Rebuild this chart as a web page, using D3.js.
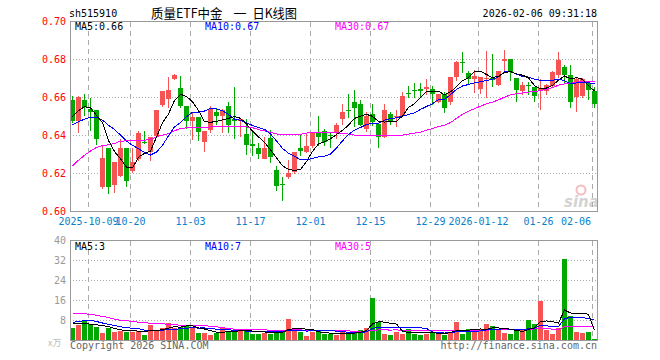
<!DOCTYPE html>
<html>
<head>
<meta charset="utf-8">
<script src="https://cdn.jsdelivr.net/npm/d3@7"></script>
<style>
body { margin: 0; background: #fff; }
svg { display: block; }
text { font-family: "DejaVu Sans Mono", monospace; font-size: 10px; }
</style>
</head>
<body>
<svg id="chart" width="660" height="360"></svg>
<script>
// daily candles, oldest first (88 sessions, 2025-09-26 .. 2026-02-06)
var opens = [0.6586, 0.6475, 0.6586, 0.6542, 0.6533, 0.6128, 0.6335, 0.6140, 0.6189, 0.6335,
    0.6214, 0.6274, 0.6367, 0.6314, 0.6395, 0.6560, 0.6593, 0.6698, 0.6650, 0.6554,
    0.6475, 0.6495, 0.6367, 0.6425, 0.6525, 0.6502, 0.6554, 0.6486, 0.6477, 0.6410,
    0.6353, 0.6332, 0.6279, 0.6389, 0.6221, 0.6147, 0.6179, 0.6204, 0.6332, 0.6314,
    0.6344, 0.6414, 0.6425, 0.6402, 0.6411, 0.6486, 0.6535, 0.6575, 0.6565, 0.6432,
    0.6512, 0.6463, 0.6393, 0.6512, 0.6495, 0.6502, 0.6626, 0.6638, 0.6644, 0.6645,
    0.6644, 0.6577, 0.6618, 0.6577, 0.6709, 0.6786, 0.6728, 0.6700, 0.6646, 0.6698,
    0.6705, 0.6666, 0.6796, 0.6805, 0.6705, 0.6635, 0.6665, 0.6656, 0.6635, 0.6635,
    0.6661, 0.6717, 0.6758, 0.6717, 0.6600, 0.6607, 0.6674, 0.6635];
var highs = [0.6607, 0.6610, 0.6618, 0.6595, 0.6535, 0.6344, 0.6335, 0.6261, 0.6379, 0.6335,
    0.6332, 0.6425, 0.6425, 0.6393, 0.6535, 0.6635, 0.6709, 0.6726, 0.6712, 0.6554,
    0.6516, 0.6495, 0.6425, 0.6554, 0.6537, 0.6542, 0.6575, 0.6653, 0.6488, 0.6486,
    0.6428, 0.6358, 0.6393, 0.6428, 0.6242, 0.6182, 0.6270, 0.6311, 0.6410, 0.6412,
    0.6414, 0.6502, 0.6432, 0.6414, 0.6467, 0.6565, 0.6618, 0.6642, 0.6586, 0.6525,
    0.6565, 0.6463, 0.6565, 0.6525, 0.6533, 0.6630, 0.6663, 0.6674, 0.6674, 0.6698,
    0.6663, 0.6620, 0.6630, 0.6710, 0.6790, 0.6840, 0.6740, 0.6744, 0.6708, 0.6846,
    0.6828, 0.6740, 0.6849, 0.6805, 0.6705, 0.6682, 0.6682, 0.6656, 0.6695, 0.6670,
    0.6740, 0.6840, 0.6770, 0.6770, 0.6709, 0.6705, 0.6682, 0.6656];
var lows = [0.6470, 0.6420, 0.6507, 0.6428, 0.6353, 0.6123, 0.6098, 0.6104, 0.6185, 0.6135,
    0.6210, 0.6270, 0.6360, 0.6270, 0.6395, 0.6555, 0.6551, 0.6695, 0.6551, 0.6442,
    0.6384, 0.6375, 0.6318, 0.6420, 0.6463, 0.6420, 0.6420, 0.6388, 0.6396, 0.6305,
    0.6296, 0.6284, 0.6279, 0.6261, 0.6112, 0.6060, 0.6177, 0.6200, 0.6296, 0.6314,
    0.6340, 0.6349, 0.6349, 0.6340, 0.6389, 0.6460, 0.6498, 0.6451, 0.6454, 0.6425,
    0.6454, 0.6342, 0.6390, 0.6463, 0.6449, 0.6500, 0.6600, 0.6600, 0.6600, 0.6621,
    0.6568, 0.6575, 0.6525, 0.6568, 0.6691, 0.6735, 0.6677, 0.6630, 0.6625, 0.6600,
    0.6660, 0.6665, 0.6744, 0.6693, 0.6582, 0.6621, 0.6621, 0.6582, 0.6540, 0.6620,
    0.6658, 0.6709, 0.6674, 0.6550, 0.6530, 0.6600, 0.6590, 0.6550];
var closes = [0.6475, 0.6600, 0.6550, 0.6526, 0.6381, 0.6282, 0.6128, 0.6261, 0.6335, 0.6161,
    0.6261, 0.6411, 0.6362, 0.6393, 0.6533, 0.6635, 0.6642, 0.6719, 0.6556, 0.6475,
    0.6495, 0.6414, 0.6425, 0.6537, 0.6502, 0.6533, 0.6454, 0.6477, 0.6486, 0.6354,
    0.6344, 0.6302, 0.6335, 0.6288, 0.6139, 0.6142, 0.6200, 0.6311, 0.6314, 0.6344,
    0.6414, 0.6393, 0.6367, 0.6396, 0.6454, 0.6525, 0.6530, 0.6546, 0.6454, 0.6502,
    0.6472, 0.6393, 0.6533, 0.6475, 0.6502, 0.6607, 0.6620, 0.6633, 0.6635, 0.6656,
    0.6620, 0.6618, 0.6546, 0.6709, 0.6788, 0.6781, 0.6698, 0.6715, 0.6707, 0.6705,
    0.6696, 0.6738, 0.6805, 0.6738, 0.6644, 0.6665, 0.6661, 0.6607, 0.6651, 0.6665,
    0.6736, 0.6796, 0.6717, 0.6577, 0.6695, 0.6695, 0.6635, 0.6565];
var volumes = [5.1, 6.4, 7.9, 6.5, 5.6, 3.1, 5.2, 3.5, 4.0, 3.6,
    3.6, 4.0, 2.4, 6.4, 3.9, 4.9, 7.1, 5.2, 5.6, 6.3,
    4.9, 3.1, 3.1, 2.4, 3.1, 4.9, 3.9, 3.9, 3.9, 4.3,
    2.8, 2.8, 3.2, 2.8, 3.6, 4.1, 8.7, 4.3, 3.6, 1.9,
    3.6, 3.9, 2.7, 2.7, 2.0, 3.6, 3.3, 3.3, 4.4, 5.2,
    17.2, 7.3, 2.8, 2.0, 3.6, 2.8, 4.7, 2.8, 2.0, 2.8,
    3.3, 3.6, 2.3, 3.6, 7.3, 2.7, 4.7, 3.6, 4.7, 6.5,
    5.9, 4.3, 3.1, 2.7, 3.9, 4.1, 8.1, 6.5, 16.0, 4.3,
    2.8, 5.2, 32.7, 10.0, 3.3, 3.1, 3.3, 0.7];

// moving averages at the left edge (their windows start before it)
var ma5Head = [0.6500, 0.6530, 0.6552, 0.6545];
var ma10Head = [0.6456, 0.6472, 0.6486, 0.6497, 0.6497, 0.6481, 0.6454, 0.6432, 0.6402];
var ma30Head = [0.6239, 0.6270, 0.6296, 0.6318, 0.6337, 0.6347, 0.6351, 0.6358, 0.6370, 0.6372,
    0.6372, 0.6374, 0.6375, 0.6379, 0.6393, 0.6402, 0.6410, 0.6425, 0.6437, 0.6440,
    0.6442, 0.6442, 0.6443, 0.6445, 0.6445, 0.6446, 0.6446, 0.6446, 0.6446];
var volMa5Head = [6.9, 6.9, 6.9, 6.5];
var volMa10Head = [7.3, 7.5, 8.0, 8.0, 7.6, 7.0, 6.5, 6.0, 5.5];
var volMa30Head = [10.7, 10.7, 10.7, 10.4, 10.1, 9.6, 9.2, 8.5, 8.1, 7.9,
    7.6, 7.3, 7.1, 6.9, 6.8, 6.7, 6.4, 6.3, 6.1, 6.0,
    6.0, 5.9, 5.9, 5.7, 5.5, 5.1, 4.8, 4.5, 4.4];

var tickIndex = [3, 10, 20, 30, 40, 50, 60, 68, 78, 87];
var tickLabels = ["2025-10-09", "10-20", "11-03", "11-17", "12-01", "12-15", "12-29", "2026-01-12", "01-26", "02-06"];
var priceTicks = [0.60, 0.62, 0.64, 0.66, 0.68, 0.70];
var volTicks = [8, 16, 24, 32, 40];
var titleParts = ["质量ETF中金", "一", "日K线图"];
var priceMaText = ["MA5:0.66", "MA10:0.67", "MA30:0.67"];
var volMaText = ["MA5:3", "MA10:7", "MA30:5"];
var maColors = ["#000000", "#0000ff", "#ff00ff"];

var RED = "#f65454", GREEN = "#00a800", GRID = "#aaaaaa";

function movingAvg(values, n, head) {
    return values.map(function (v, i) {
        if (i < n - 1) return head[i];
        return d3.mean(values.slice(i - n + 1, i + 1));
    });
}

var svg = d3.select('#chart'),
    n = closes.length,
    left = 70, right = 70 + 6 * n;

var x = d3.scaleLinear().domain([0, n]).range([left, right]),
    yP = d3.scaleLinear().domain([0.60, 0.70]).range([211.5, 21.5]),
    yV = d3.scaleLinear().domain([0, 40]).range([340.5, 240.5]);

function cx(i) { return x(i) + 2.5; }

// header
svg.append('text').attr('x', 69).attr('y', 17).text('sh515910');
[[151, 71.5], [233.5, 13], [252.5, 44.5]].forEach(function (p, k) {
    svg.append('text').attr('x', p[0]).attr('y', 18)
        .style('font-family', '"Noto Sans CJK SC", sans-serif').style('font-size', '13px')
        .attr('textLength', p[1]).attr('lengthAdjust', 'spacingAndGlyphs')
        .text(titleParts[k]);
});
svg.append('text').attr('x', 597).attr('y', 17).attr('text-anchor', 'end').text('2026-02-06 09:31:18');

function panel(y0, y1, ticks, yScale, fmt, labelColor, showFirst) {
    var g = svg.append('g').attr('shape-rendering', 'crispEdges');
    g.selectAll('line.hg').data(ticks.slice(1, -1)).enter()
        .append('line')
        .attr('x1', left).attr('x2', right)
        .attr('y1', function (d) { return yScale(d); })
        .attr('y2', function (d) { return yScale(d); })
        .attr('stroke', GRID).attr('stroke-dasharray', '1,2');
    g.selectAll('line.vg').data(tickIndex).enter()
        .append('line')
        .attr('x1', function (d) { return x(d) + 0.5; })
        .attr('x2', function (d) { return x(d) + 0.5; })
        .attr('y1', y0).attr('y2', y1)
        .attr('stroke', GRID).attr('stroke-dasharray', '5,4');
    svg.append('g').selectAll('text').data(showFirst ? ticks : ticks.slice(1)).enter()
        .append('text')
        .attr('x', 66).attr('text-anchor', 'end')
        .attr('y', function (d) { return yScale(d); })
        .attr('dy', '0.35em')
        .attr('fill', labelColor)
        .text(fmt);
}

panel(21.5, 211.5, priceTicks, yP, d3.format('.2f'), '#ff0000', true);
panel(240.5, 340.5, [0].concat(volTicks), yV, function (d) { return d; }, '#999999', false);

// date axis
svg.append('g').selectAll('text').data(tickIndex).enter()
    .append('text')
    .attr('x', function (d, i) { return i === tickIndex.length - 1 ? 591 : x(d) + 0.5; })
    .attr('y', 225)
    .attr('text-anchor', function (d, i) { return i === tickIndex.length - 1 ? 'end' : 'middle'; })
    .attr('fill', '#0a80cc')
    .text(function (d, i) { return tickLabels[i]; });

// watermark
var wm = svg.append('g').attr('opacity', 0.55);
wm.append('circle').attr('cx', 581).attr('cy', 190).attr('r', 4.5)
    .attr('fill', 'none').attr('stroke', '#ee8888').attr('stroke-width', 2);
wm.append('text').attr('x', 564).attr('y', 207)
    .style('font-family', '"DejaVu Sans", sans-serif').style('font-size', '15px')
    .style('font-weight', 'bold').style('font-style', 'italic')
    .attr('fill', '#b0b0b0').text('sina');

// candles
var up = function (i) { return closes[i] >= opens[i]; };
var idx = d3.range(n);
var cg = svg.append('g').attr('shape-rendering', 'crispEdges');
cg.selectAll('.wick').data(idx).enter()
    .append('line')
    .attr('x1', cx).attr('x2', cx)
    .attr('y1', function (i) { return Math.round(yP(highs[i])); })
    .attr('y2', function (i) { return Math.round(yP(lows[i])) + 1; })
    .attr('stroke', function (i) { return up(i) ? RED : GREEN; });
cg.selectAll('.body').data(idx).enter()
    .append('rect')
    .attr('x', function (i) { return x(i); })
    .attr('width', 5)
    .attr('y', function (i) { return Math.round(yP(Math.max(opens[i], closes[i]))); })
    .attr('height', function (i) {
        return Math.max(1, Math.round(Math.abs(yP(opens[i]) - yP(closes[i]))));
    })
    .attr('fill', function (i) { return up(i) ? RED : GREEN; });

// volume bars
cg.selectAll('.vol').data(idx).enter()
    .append('rect')
    .attr('x', function (i) { return x(i); })
    .attr('width', 5)
    .attr('y', function (i) { return Math.round(yV(volumes[i])); })
    .attr('height', function (i) { return 341 - Math.round(yV(volumes[i])); })
    .attr('fill', function (i) { return up(i) ? RED : GREEN; });

// moving average lines
function maLine(values, yScale, color) {
    var line = d3.line()
        .x(function (d, i) { return cx(i); })
        .y(function (d) { return yScale(d); });
    svg.append('path').datum(values)
        .attr('d', line)
        .attr('fill', 'none')
        .attr('stroke', color)
        .attr('stroke-width', 1)
        .attr('shape-rendering', 'crispEdges');
}

maLine(movingAvg(closes, 30, ma30Head), yP, maColors[2]);
maLine(movingAvg(closes, 10, ma10Head), yP, maColors[1]);
maLine(movingAvg(closes, 5, ma5Head), yP, maColors[0]);
maLine(movingAvg(volumes, 30, volMa30Head), yV, maColors[2]);
maLine(movingAvg(volumes, 10, volMa10Head), yV, maColors[1]);
maLine(movingAvg(volumes, 5, volMa5Head), yV, maColors[0]);

// frames
svg.append('rect').attr('x', left + 0.5).attr('y', 21.5).attr('width', right - left - 1).attr('height', 190)
    .attr('fill', 'none').attr('stroke', '#999').attr('shape-rendering', 'crispEdges');
svg.append('rect').attr('x', left + 0.5).attr('y', 240.5).attr('width', right - left - 1).attr('height', 100)
    .attr('fill', 'none').attr('stroke', '#999').attr('shape-rendering', 'crispEdges');

// legends
[75, 205, 335].forEach(function (lx, k) {
    svg.append('text').attr('x', lx).attr('y', 30).attr('fill', maColors[k]).text(priceMaText[k]);
    svg.append('text').attr('x', lx).attr('y', 250).attr('fill', maColors[k]).text(volMaText[k]);
});

// footer
svg.append('text').attr('x', 48).attr('y', 346)
    .style('font-family', '"Noto Sans CJK SC", sans-serif').style('font-size', '9px')
    .attr('fill', '#bbbbbb').text('x万');
svg.append('text').attr('x', 70).attr('y', 349).attr('fill', '#666666').text('Copyright 2026 SINA.COM');
svg.append('text').attr('x', 597).attr('y', 349).attr('text-anchor', 'end').attr('fill', '#666666')
    .text('http://finance.sina.com.cn');
</script>
</body>
</html>
